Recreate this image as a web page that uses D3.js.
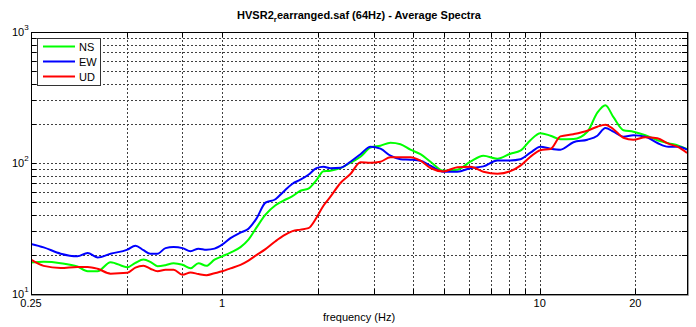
<!DOCTYPE html>
<html>
<head>
<meta charset="utf-8">
<script src="https://cdn.jsdelivr.net/npm/d3@7"></script>
<style>
    html, body { margin: 0; padding: 0; background: #fff; }
    svg text { font-family: "Liberation Sans", Arial, sans-serif; }
</style>
</head>
<body>
<div id="chartHolder"></div>
<script>
// frequency samples (Hz), shared by the three components
const freqs = [0.25, 0.274, 0.31, 0.35, 0.377, 0.405, 0.445, 0.503, 0.533, 0.565,
    0.594, 0.626, 0.663, 0.703, 0.75, 0.795, 0.842, 0.892, 0.946, 1.0,
    1.062, 1.142, 1.21, 1.282, 1.369, 1.472, 1.56, 1.665, 1.764, 1.869,
    1.981, 2.084, 2.193, 2.358, 2.535, 2.726, 2.931, 3.151, 3.388, 3.643,
    3.916, 4.211, 4.528, 4.976, 5.507, 6.05, 6.647, 7.358, 8.087, 8.694,
    9.348, 10.05, 10.81, 11.62, 12.77, 14.13, 15.19, 16.1, 17.07, 18.35,
    19.72, 21.52, 23.48, 25.43, 27.34, 29.1];
const nsValues = [17.4, 17.6, 17.2, 16.2, 14.9, 14.9, 17.5, 16.0, 17.3, 18.3,
    17.6, 16.3, 16.6, 17.2, 16.7, 15.7, 17.2, 16.4, 18.3, 19.4,
    20.7, 22.8, 26.0, 32.1, 40.3, 47.6, 51.6, 55.8, 61.4, 63.7,
    73.9, 86.6, 87.3, 91.3, 100.5, 111.7, 130.9, 135.6, 142.9, 139.2,
    126.4, 116.7, 102.3, 87.3, 88.9, 102.3, 113.7, 107.8, 117.8, 124.1,
    149.3, 168.9, 161.6, 151.9, 152.5, 173.4, 242.1, 276.2, 223.7, 178.0,
    173.4, 163.0, 149.3, 141.6, 135.6, 127.5];
const ewValues = [24.1, 22.7, 20.3, 19.4, 20.6, 19.0, 20.3, 21.8, 23.4, 21.6,
    20.3, 20.3, 22.4, 22.8, 22.4, 21.2, 22.2, 21.8, 22.2, 23.8,
    26.7, 29.4, 31.5, 37.6, 49.8, 52.9, 60.4, 69.5, 74.6, 81.4,
    91.3, 93.7, 91.3, 92.1, 102.3, 116.7, 133.1, 128.6, 113.7, 106.9,
    106.0, 104.1, 95.4, 85.8, 85.8, 91.3, 94.2, 104.7, 104.7, 106.9,
    119.8, 133.1, 128.6, 126.4, 144.1, 150.6, 161.6, 185.0, 173.4, 158.8,
    163.0, 158.8, 142.1, 133.1, 133.1, 126.4];
const udValues = [18.3, 16.4, 15.8, 16.1, 16.1, 15.6, 14.3, 14.5, 15.9, 16.4,
    15.6, 14.9, 15.3, 15.3, 14.0, 14.6, 14.2, 13.9, 14.4, 14.9,
    15.7, 16.7, 18.0, 19.8, 22.0, 25.3, 27.9, 30.2, 31.0, 31.8,
    38.2, 47.2, 55.3, 70.4, 82.4, 101.4, 100.5, 102.3, 110.7, 110.7,
    110.7, 104.1, 91.6, 86.3, 92.9, 93.7, 85.8, 82.8, 86.6, 95.4,
    111.7, 125.2, 127.9, 159.6, 165.9, 176.4, 189.3, 196.1, 181.1, 156.0,
    150.6, 157.4, 154.6, 140.4, 132.0, 119.2];
const seriesNames = ['NS', 'EW', 'UD'];
const seriesColors = ['#00ff00', '#0000ff', '#ff0000'];
const xTickLabels = [0.25, 1, 10, 20];
const xGridValues = [0.5, 0.75, 1, 2, 3, 4, 5, 6, 7, 8, 9, 10, 20];
const yExponents = [1, 2, 3];

const width = 696, height = 327;
const plot = { left: 31, right: 687, top: 32, bottom: 294 };

const svg = d3.select('#chartHolder').append('svg')
    .attr('width', width)
    .attr('height', height);

svg.append('rect').attr('width', width).attr('height', height).attr('fill', '#fff');

const x = d3.scaleLog().domain([0.25, 29.1]).range([plot.left, plot.right]);
const y = d3.scaleLog().domain([10, 1000]).range([plot.bottom, plot.top]);

// y minor values 20..90, 100, 200..900
const yGridValues = [];
[10, 100].forEach(d => {
    for (let k = 1; k <= 9; k++) {
        if (d * k > 10) yGridValues.push(d * k);
    }
});

const grid = svg.append('g')
    .attr('stroke', '#404040')
    .attr('stroke-width', 1)
    .attr('stroke-dasharray', '2,2');
grid.selectAll('.gx').data(xGridValues).enter().append('line')
    .attr('x1', d => Math.round(x(d)) + 0.5)
    .attr('x2', d => Math.round(x(d)) + 0.5)
    .attr('y1', plot.top)
    .attr('y2', plot.bottom);
grid.selectAll('.gy').data(yGridValues).enter().append('line')
    .attr('x1', plot.left)
    .attr('x2', plot.right)
    .attr('y1', d => Math.round(y(d)) + 0.5)
    .attr('y2', d => Math.round(y(d)) + 0.5);

// inward tick marks
const ticks = svg.append('g').attr('stroke', '#000').attr('stroke-width', 1);
yGridValues.forEach(v => {
    const yy = Math.round(y(v)) + 0.5;
    ticks.append('line').attr('x1', plot.left).attr('x2', plot.left + 5).attr('y1', yy).attr('y2', yy);
    ticks.append('line').attr('x1', plot.right).attr('x2', plot.right - 5).attr('y1', yy).attr('y2', yy);
});
xGridValues.forEach(v => {
    const xx = Math.round(x(v)) + 0.5;
    ticks.append('line').attr('x1', xx).attr('x2', xx).attr('y1', plot.bottom).attr('y2', plot.bottom - 5);
    ticks.append('line').attr('x1', xx).attr('x2', xx).attr('y1', plot.top).attr('y2', plot.top + 5);
});

svg.append('clipPath').attr('id', 'plotClip').append('rect')
    .attr('x', plot.left).attr('y', plot.top)
    .attr('width', plot.right - plot.left).attr('height', plot.bottom - plot.top);

const line = d3.line()
    .x(d => x(d[0]))
    .y(d => y(d[1]))
    .curve(d3.curveMonotoneX);

const allValues = [nsValues, ewValues, udValues];
const curves = svg.append('g').attr('clip-path', 'url(#plotClip)');
allValues.forEach((vals, i) => {
    curves.append('path')
        .datum(freqs.map((f, j) => [f, vals[j]]))
        .attr('d', line)
        .attr('fill', 'none')
        .attr('stroke', seriesColors[i])
        .attr('stroke-width', 2)
        .attr('stroke-linejoin', 'round');
});

// frame
svg.append('rect')
    .attr('x', plot.left + 0.5).attr('y', plot.top + 0.5)
    .attr('width', plot.right - plot.left).attr('height', plot.bottom - plot.top)
    .attr('fill', 'none').attr('stroke', '#000').attr('stroke-width', 1);
svg.append('path')
    .attr('d', `M${plot.right + 1.5},${plot.top} V${plot.bottom + 1.5} H${plot.left}`)
    .attr('fill', 'none').attr('stroke', '#9a9a9a').attr('stroke-width', 1);

// x tick labels
svg.selectAll('.xlab').data(xTickLabels).enter().append('text')
    .attr('x', d => x(d))
    .attr('y', 307)
    .attr('text-anchor', 'middle')
    .attr('font-size', '11px')
    .attr('fill', '#000')
    .text(d => d);

// y tick labels 10^n
yExponents.forEach(p => {
    const yy = y(Math.pow(10, p));
    const t = svg.append('text')
        .attr('x', 12)
        .attr('y', yy + 4)
        .attr('font-size', '11px')
        .attr('fill', '#000');
    t.append('tspan').text('10');
    t.append('tspan').attr('dy', -6).attr('font-size', '8px').text(p);
});

svg.append('text')
    .attr('x', (plot.left + plot.right) / 2)
    .attr('y', 321)
    .attr('text-anchor', 'middle')
    .attr('font-size', '11px')
    .attr('fill', '#000')
    .text('frequency (Hz)');

const title = svg.append('text')
    .attr('x', (plot.left + plot.right) / 2)
    .attr('y', 18.5)
    .attr('text-anchor', 'middle')
    .attr('font-size', '11px')
    .attr('font-weight', 'bold')
    .attr('fill', '#000');
title.append('tspan').text('HVSR2');
title.append('tspan').attr('dy', 3).attr('font-size', '8px').text('r');
title.append('tspan').attr('dy', -3).text('earranged.saf (64Hz) - Average Spectra');

// legend
const legend = svg.append('g');
legend.append('rect')
    .attr('x', 37.5).attr('y', 38.5).attr('width', 63).attr('height', 47)
    .attr('fill', '#fff').attr('stroke', '#333').attr('stroke-width', 1);
seriesNames.forEach((name, i) => {
    const ly = 46.5 + i * 15;
    legend.append('line')
        .attr('x1', 43).attr('x2', 75).attr('y1', ly).attr('y2', ly)
        .attr('stroke', seriesColors[i]).attr('stroke-width', 2);
    legend.append('text')
        .attr('x', 79).attr('y', ly + 4)
        .attr('font-size', '11px')
        .attr('fill', '#000')
        .text(name);
});
</script>
</body>
</html>
